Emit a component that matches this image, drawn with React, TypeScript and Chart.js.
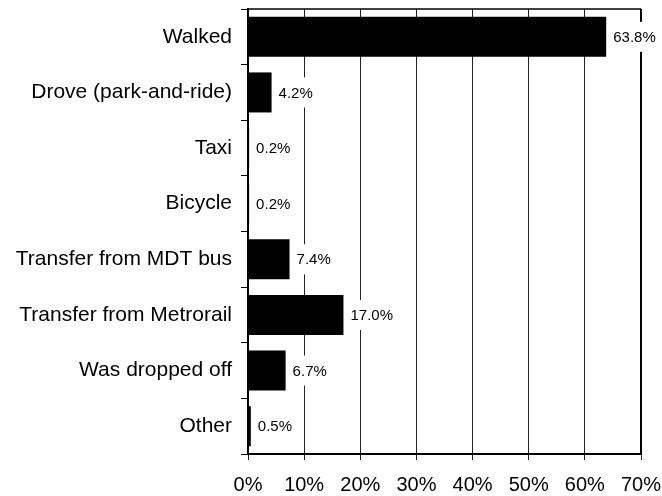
import React, { useEffect, useRef } from "react";
import { Chart, registerables } from "chart.js";

Chart.register(...registerables);

const categories = [
  "Walked",
  "Drove (park-and-ride)",
  "Taxi",
  "Bicycle",
  "Transfer from MDT bus",
  "Transfer from Metrorail",
  "Was dropped off",
  "Other",
];
const shares = [63.8, 4.2, 0.2, 0.2, 7.4, 17.0, 6.7, 0.5];
const xMin = 0;
const xMax = 70;
const xStep = 10;

const FONT = '"Liberation Sans", Arial, sans-serif';

const borderPlugin = {
  id: "plotBorder",
  beforeDatasetsDraw(chart: any) {
    const { ctx, chartArea } = chart;
    ctx.save();
    ctx.strokeStyle = "#000";
    ctx.lineWidth = 1.5;
    ctx.beginPath();
    ctx.moveTo(chartArea.left, chartArea.top);
    ctx.lineTo(chartArea.right, chartArea.top);
    ctx.stroke();
    ctx.lineWidth = 2;
    ctx.beginPath();
    ctx.moveTo(chartArea.right, chartArea.top);
    ctx.lineTo(chartArea.right, chartArea.bottom);
    ctx.stroke();
    ctx.restore();
  },
};

const labelPlugin = {
  id: "barLabels",
  afterDatasetsDraw(chart: any) {
    const { ctx } = chart;
    const meta = chart.getDatasetMeta(0);
    ctx.save();
    ctx.font = `15px ${FONT}`;
    ctx.textBaseline = "middle";
    ctx.textAlign = "left";
    meta.data.forEach((el: any, i: number) => {
      const text = shares[i].toFixed(1) + "%";
      const w = ctx.measureText(text).width;
      const x = el.x;
      const y = el.y;
      ctx.fillStyle = "#fff";
      ctx.fillRect(x + 2, y - 15, w + 10, 30);
      ctx.fillStyle = "#000";
      ctx.fillText(text, x + 7, y + 1);
    });
    ctx.restore();
  },
};

export default function App() {
  const ref = useRef<HTMLCanvasElement | null>(null);
  useEffect(() => {
    document.body.style.margin = "0";
    const canvas = ref.current;
    if (!canvas) return;
    const chart = new Chart(canvas, {
      type: "bar",
      data: {
        labels: categories,
        datasets: [
          {
            data: shares,
            backgroundColor: "#000",
            borderWidth: 0,
            barPercentage: 0.72,
            categoryPercentage: 1,
          },
        ],
      },
      options: {
        indexAxis: "y",
        responsive: false,
        animation: false,
        devicePixelRatio: 1,
        layout: { padding: { top: 9, right: 21, left: 0, bottom: 0 } },
        plugins: {
          legend: { display: false },
          tooltip: { enabled: false },
          title: { display: false },
        },
        scales: {
          x: {
            min: xMin,
            max: xMax,
            ticks: {
              stepSize: xStep,
              color: "#000",
              font: { family: FONT, size: 20 },
              padding: 13,
              callback: (v: any) => v + "%",
            },
            grid: {
              color: "#222",
              lineWidth: 1,
              tickLength: 6,
              drawTicks: true,
            },
            border: { display: true, color: "#000", width: 2 },
            afterFit: (scale: any) => {
              scale.height = 42;
              scale.paddingLeft = 0;
              scale.paddingRight = 0;
            },
          },
          y: {
            ticks: {
              color: "#000",
              font: { family: FONT, size: 21 },
              padding: 9,
            },
            grid: {
              drawOnChartArea: false,
              drawTicks: true,
              tickLength: 7,
              color: "#000",
              lineWidth: 1,
              offset: true,
            },
            border: { display: true, color: "#000", width: 2 },
            afterFit: (scale: any) => {
              scale.width = 248;
              scale.paddingTop = 0;
              scale.paddingBottom = 0;
            },
          },
        },
      },
      plugins: [borderPlugin, labelPlugin],
    });
    return () => chart.destroy();
  }, []);
  return (
    <div style={{ width: 662, height: 496, background: "#fff" }}>
      <canvas ref={ref} width={662} height={496} style={{ display: "block" }} />
    </div>
  );
}
